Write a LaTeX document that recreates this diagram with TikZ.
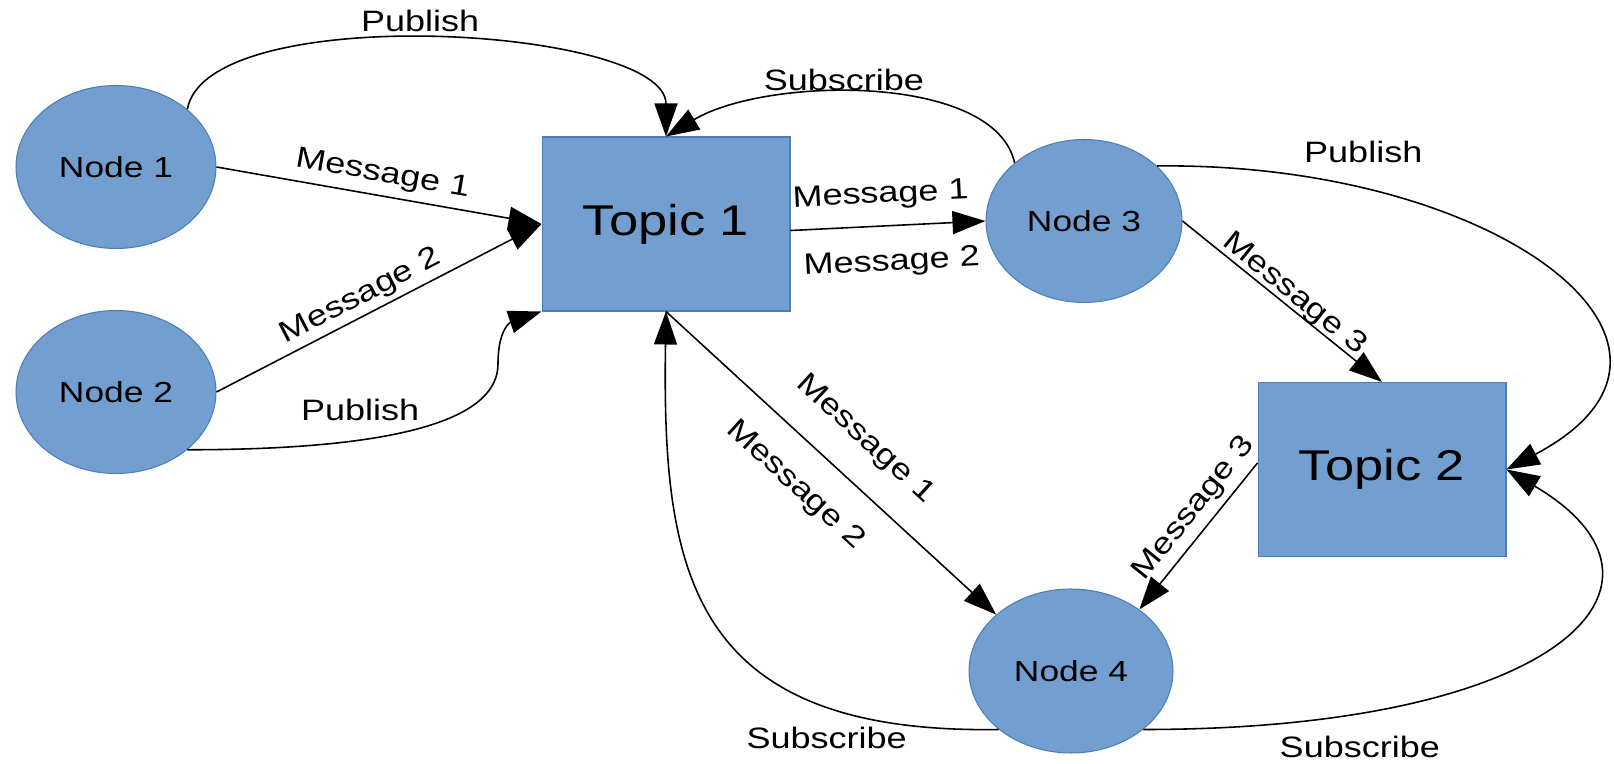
\documentclass[tikz,border=0pt]{standalone}
\usepackage{fontspec}
\newfontfamily\diagfont[FakeStretch=1.22]{Liberation Sans}
\usetikzlibrary{arrows.meta,shapes.geometric}
\definecolor{vfill}{HTML}{729FCF}
\definecolor{vline}{HTML}{4E7DB9}

\begin{document}
\begin{tikzpicture}[x=0.02cm, y=0.02cm,
  vertex/.style={ellipse, draw=vline, fill=vfill, line width=0.6pt, inner sep=0pt,
    minimum width=4cm, minimum height=3.26cm, font=\diagfont\fontsize{16.5}{18}\selectfont},
  topic/.style={rectangle, draw=vline, fill=vfill, line width=0.6pt, inner sep=0pt,
    minimum width=4.96cm, minimum height=3.48cm, font=\diagfont\fontsize{24.5}{28}\selectfont},
  link/.style={line width=0.9pt, -{Triangle[length=0.66cm, width=0.46cm]}},
  lbl/.style={font=\diagfont\fontsize{16.8}{19}\selectfont, inner sep=1pt}]
\useasboundingbox (0,0) rectangle (1614,764);

\node[vertex] (n1) at (116,597) {Node 1};
\node[vertex] (n2) at (116,372) {Node 2};
\node[vertex, minimum width=3.92cm] (n3) at (1084,543) {Node 3};
\node[vertex, minimum width=4.08cm, minimum height=3.28cm] (n4) at (1071,93) {Node 4};
\node[topic] (t1) at (666,540) {Topic 1};
\node[topic] (t2) at (1382,294.5) {Topic 2};
\coordinate (p2bend) at (498,400);

\draw[link] (n1.39) .. controls +(20,110) and +(0,110) .. (t1.north) node[lbl, above=0.1cm, pos=0.48] {Publish};
\draw[link] (n1.east) -- (t1.west) node[lbl, sloped, above=0.11cm, pos=0.5] {Message 1};
\draw[link] (n2.east) -- (t1.west) node[lbl, sloped, above=0.05cm, pos=0.47] {Message 2};
\draw[link] (n2.-39) .. controls +(230,0) and +(0,-50) .. (p2bend) node[lbl, above=0.33cm, pos=0.31] {Publish}
  .. controls +(0,40) and +(-27,-9) .. (t1.south west);
\draw[link] (n3.140) .. controls +(-20,90) and +(100,60) .. (t1.north) node[lbl, above=0cm, pos=0.56] {Subscribe};
\draw[link] (t1.-3) -- (n3.west) node[lbl, sloped, above=0.29cm, pos=0.47] {Message 1}
  node[lbl, sloped, below=0.43cm, pos=0.51] {Message 2};
\draw[link] (n3.east) -- (t2.north) node[lbl, sloped, above=-0.06cm, pos=0.52] {Message 3};
\draw[link] (n3.37) .. controls +(340,4) and +(233,123) .. (t2.east) node[lbl, above=0.45cm, pos=0.22] {Publish};
\draw[link] (t1.south) -- (n4.143) node[lbl, sloped, above=0.49cm, pos=0.52] {Message 1}
  node[lbl, sloped, below=0.49cm, pos=0.475] {Message 2};
\draw[link] (t2.177) -- (n4.42) node[lbl, sloped, above=0.09cm, pos=0.4] {Message 3};
\draw[link] (n4.219) .. controls +(-310,-5) and +(-4,-260) .. (t1.south) node[lbl, below=0.34cm, pos=0.23] {Subscribe};
\draw[link] (n4.-39) .. controls +(417,0) and +(194,-114.5) .. (t2.east) node[lbl, below=0.41cm, pos=0.2] {Subscribe};
\end{tikzpicture}
\end{document}
